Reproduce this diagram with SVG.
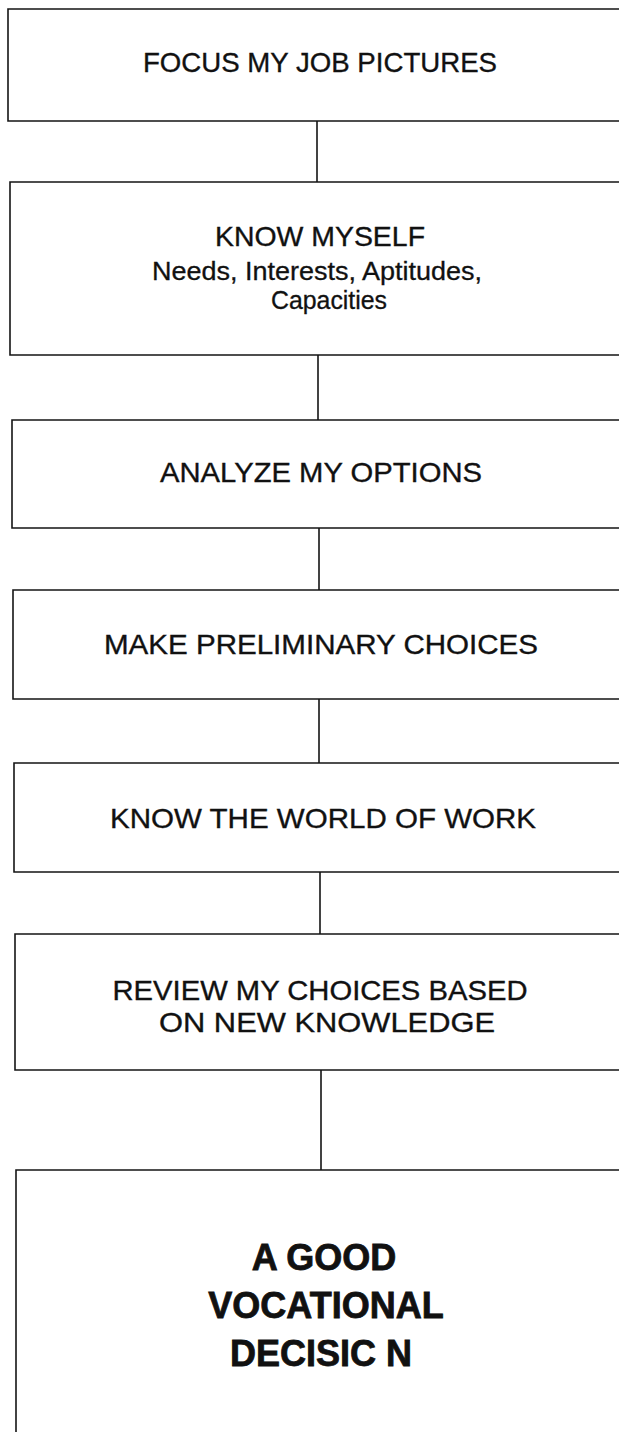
<svg xmlns="http://www.w3.org/2000/svg" width="619" height="1432" viewBox="0 0 619 1432">
<style>
.box{fill:none;stroke:#141414;stroke-width:1.6}
.con{stroke:#141414;stroke-width:1.6;fill:none}
.t{font-family:"Liberation Sans",Arial,sans-serif;font-size:28px;fill:#111;stroke:#111;stroke-width:0.35;text-anchor:middle}
.s{font-family:"Liberation Sans",Arial,sans-serif;font-size:25px;fill:#111;stroke:#111;stroke-width:0.3;text-anchor:middle}
.b{font-family:"Liberation Sans",Arial,sans-serif;font-size:36px;font-weight:bold;fill:#111;stroke:#111;stroke-width:0.8;text-anchor:middle}
</style>
<rect width="619" height="1432" fill="#ffffff"/>
<g id="connectors">
<line class="con" x1="317" y1="121" x2="317" y2="182"/>
<line class="con" x1="318" y1="355" x2="318" y2="420"/>
<line class="con" x1="319" y1="528" x2="319" y2="590"/>
<line class="con" x1="319" y1="699" x2="319" y2="763"/>
<line class="con" x1="320" y1="872" x2="320" y2="934"/>
<line class="con" x1="321" y1="1070" x2="321" y2="1170"/>
</g>
<g id="node1">
<path class="box" d="M640 9H8V121H640"/>
<text class="t" x="320" y="72" textLength="354" lengthAdjust="spacingAndGlyphs">FOCUS MY JOB PICTURES</text>
</g>
<g id="node2">
<path class="box" d="M640 182H10V355H640"/>
<text class="t" x="320" y="246" textLength="210" lengthAdjust="spacingAndGlyphs">KNOW MYSELF</text>
<text class="s" x="317" y="280" textLength="330" lengthAdjust="spacingAndGlyphs">Needs, Interests, Aptitudes,</text>
<text class="s" x="329" y="309" textLength="116" lengthAdjust="spacingAndGlyphs">Capacities</text>
</g>
<g id="node3">
<path class="box" d="M640 420H12V528H640"/>
<text class="t" x="321" y="482" textLength="322" lengthAdjust="spacingAndGlyphs">ANALYZE MY OPTIONS</text>
</g>
<g id="node4">
<path class="box" d="M640 590H13V699H640"/>
<text class="t" x="321" y="654" textLength="434" lengthAdjust="spacingAndGlyphs">MAKE PRELIMINARY CHOICES</text>
</g>
<g id="node5">
<path class="box" d="M640 763H14V872H640"/>
<text class="t" x="323" y="828" textLength="426" lengthAdjust="spacingAndGlyphs">KNOW THE WORLD OF WORK</text>
</g>
<g id="node6">
<path class="box" d="M640 934H15V1070H640"/>
<text class="t" x="320" y="1000" textLength="415" lengthAdjust="spacingAndGlyphs">REVIEW MY CHOICES BASED</text>
<text class="t" x="327" y="1032" textLength="336" lengthAdjust="spacingAndGlyphs">ON NEW KNOWLEDGE</text>
</g>
<g id="node7">
<path class="box" d="M640 1170H16V1440"/>
<text class="b" x="324" y="1270">A GOOD</text>
<text class="b" x="326" y="1318">VOCATIONAL</text>
<text class="b" x="321" y="1366">DECISIC N</text>
</g>
</svg>
